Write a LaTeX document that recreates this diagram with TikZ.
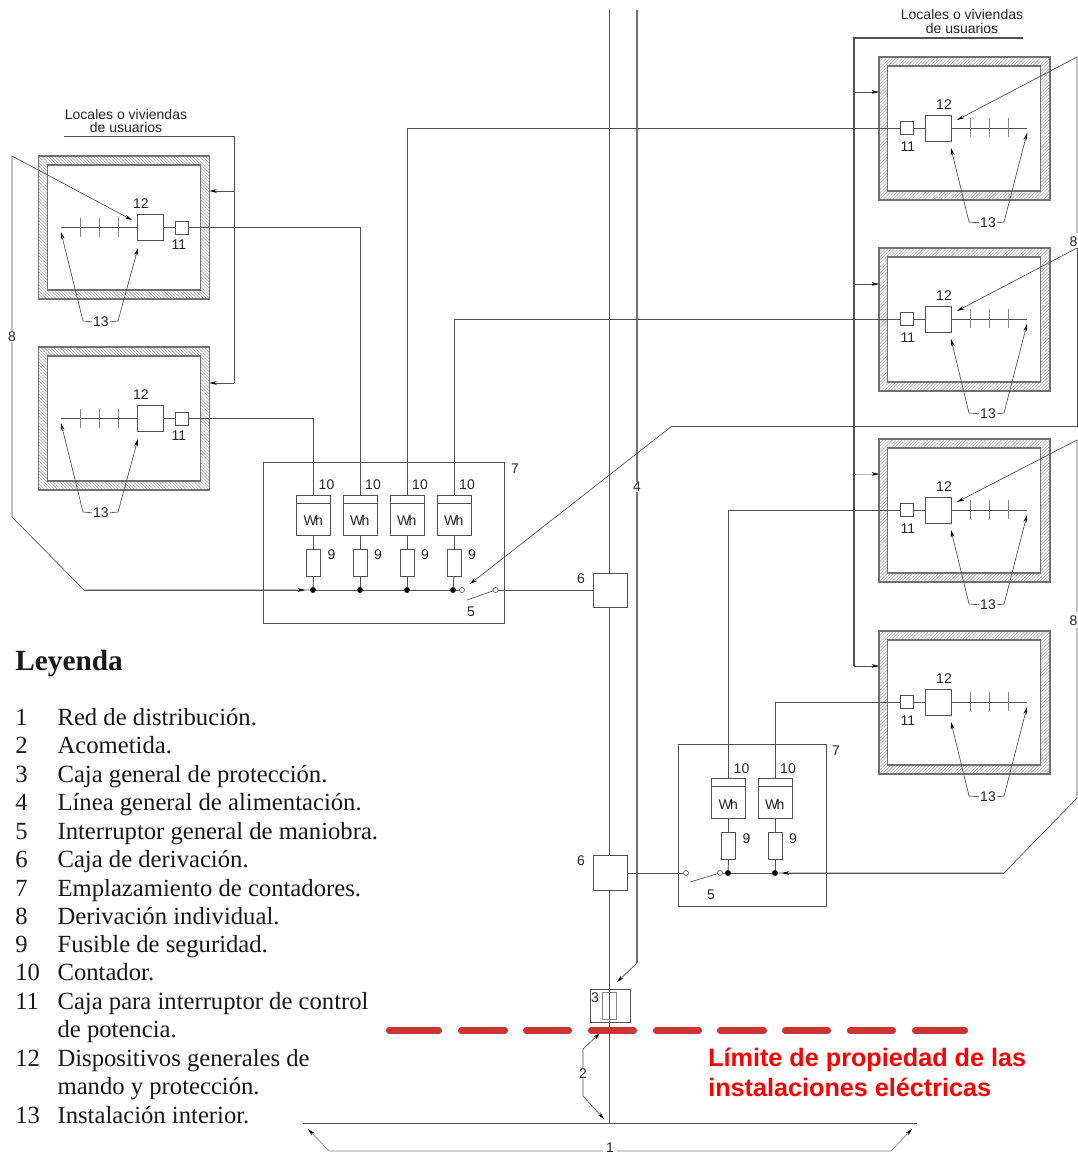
\documentclass[tikz,border=0pt]{standalone}
\usepackage{fontspec}
\setmainfont{Liberation Serif}
\setsansfont{Liberation Sans}
\usetikzlibrary{arrows.meta,patterns.meta}
\definecolor{wire}{HTML}{505050}
\definecolor{wallc}{HTML}{707070}
\definecolor{hatchc}{HTML}{8C8C8C}
\definecolor{limit}{HTML}{CC3333}
\definecolor{limtext}{HTML}{FF0000}
\tikzset{
  wire/.style={draw=wire,line width=0.7pt},
  lead/.style={draw=wire,line width=0.5pt},
  tip/.style={lead,-{Stealth[length=5.5pt,width=2.8pt,color=black]}},
  boxn/.style={draw=wire,line width=0.7pt,fill=white,inner sep=0pt,outer sep=0pt},
  bx/.style 2 args={boxn,minimum width=#1*0.75pt,minimum height=#2*0.75pt},
  wallNE/.style={draw=wallc,line width=0.8pt,inner sep=0pt,outer sep=0pt,minimum width=171*0.75pt,minimum height=143*0.75pt,
    pattern={Lines[angle=45,distance=1.7pt,line width=0.3pt]},pattern color=hatchc},
  wallNW/.style={wallNE,pattern={Lines[angle=-45,distance=1.7pt,line width=0.3pt]},pattern color=hatchc},
  inroom/.style={draw=wallc,line width=0.8pt,fill=white,inner sep=0pt,outer sep=0pt,minimum width=153*0.75pt,minimum height=125*0.75pt},
  lab/.style={font=\sffamily\fontsize{10.5}{12}\selectfont,text=black!85,inner sep=0pt,outer sep=0pt,yshift=-0.6pt},
  leg/.style={font=\rmfamily\fontsize{18.5}{20}\selectfont,anchor=base west,inner sep=0pt,text=black!90},
  red/.style={font=\sffamily\bfseries\fontsize{18.9}{20}\selectfont,anchor=base west,inner sep=0pt,text=limtext},
  dotn/.style={circle,fill=black,inner sep=0pt,minimum size=4.4pt},
  opn/.style={circle,draw=wire,line width=0.4pt,fill=white,inner sep=0pt,minimum size=3.8pt},
  limline/.style={draw=limit,line width=4.6pt,line cap=round},
}
% right-hand room: name, vertical offset
\newcommand\roomR[2]{%
\begin{scope}[shift={(0,#2)}]
  \node[wallNE] (#1) at (964.5,128.5) {};
  \node[inroom] (#1in) at (964,128.5) {};
  \node[bx={26}{26}] (#1b) at (938,128) {};
  \node[bx={13}{13}] (#1s) at (906.5,128) {};
  \coordinate (#1e) at (1027,128);
  \draw[wire] (#1s.east) -- (#1b.west) (#1b.east) -- (#1e);
  \foreach \t/\xx in {a/970,c/989,d/1008}{\draw[draw=wire!70,line width=0.7pt] (\xx,118) -- (\xx,137);}
  \node[lab] (#1l12) at (944,104) {12};
  \node[lab] (#1l11) at (908,146) {11};
  \node[lab] (#1l13) at (988,222) {13};
  \coordinate (#1t1) at (951,148);
  \coordinate (#1t2) at (1027,133);
  \coordinate (#1k1) at (969,222);
  \coordinate (#1k2) at (1004,222);
  \draw[tip] (#1l13.west) ++(-1,0) -- (#1k1) -- (#1t1);
  \draw[tip] (#1l13.east) ++(1,0) -- (#1k2) -- (#1t2);
\end{scope}}
% left-hand room: name, vertical offset
\newcommand\roomL[2]{%
\begin{scope}[shift={(0,#2)}]
  \node[wallNW] (#1) at (124,227.5) {};
  \node[inroom] (#1in) at (124,227.5) {};
  \node[bx={26}{26}] (#1b) at (150,227.5) {};
  \node[bx={13}{13}] (#1s) at (181.5,227.5) {};
  \coordinate (#1e) at (61,227.5);
  \draw[wire] (#1s.west) -- (#1b.east) (#1b.west) -- (#1e);
  \foreach \t/\xx in {a/80,c/99.5,d/118.5}{\draw[draw=wire!70,line width=0.7pt] (\xx,218) -- (\xx,237);}
  \node[lab] (#1l12) at (141,203) {12};
  \node[lab] (#1l11) at (179,244) {11};
  \node[lab] (#1l13) at (101,321) {13};
  \coordinate (#1t1) at (61,232);
  \coordinate (#1t2) at (138,248);
  \coordinate (#1k1) at (83,321);
  \coordinate (#1k2) at (118,321);
  \draw[tip] (#1l13.west) ++(-1,0) -- (#1k1) -- (#1t1);
  \draw[tip] (#1l13.east) ++(1,0) -- (#1k2) -- (#1t2);
\end{scope}}
% meter with fuse: name, x centre, y offset
\newcommand\meter[3]{%
  \node[bx={34}{40}] (#1) at (#2,515+#3) {};
  \draw[wire] (#1.west |- #2,503+#3) -- (#1.east |- #2,503+#3);
  \node[lab] (#1w) at (#2-0.5,520+#3) {\kern0.3pt W\kern-1.2pt h};
  \node[bx={14}{27}] (#1f) at (#2,562.5+#3) {};
  \node[lab] (#1n) at (#2+13,484+#3) {10};
  \node[lab] (#1g) at (#2+18,554+#3) {9};
  \draw[wire] (#1.south) -- (#1f.north);
}
\begin{document}
\begin{tikzpicture}[x=0.75pt,y=-0.75pt]
\useasboundingbox (0,0) rectangle (1078,1153);

% rooms
\roomR{rA}{0}
\roomR{rB}{191}
\roomR{rC}{382}
\roomR{rD}{574}
\roomL{lA}{0}
\roomL{lB}{191}

% captions
\node[lab,align=center,font=\sffamily\fontsize{10.5}{10.2}\selectfont] (capR) at (962,20.5) {Locales o viviendas\\de usuarios};
\node[lab,align=center,font=\sffamily\fontsize{10.5}{10.2}\selectfont] (capL) at (126,120) {Locales o viviendas\\de usuarios};

% feeders into rooms, right
\coordinate (fRa) at (1023,38);
\coordinate (fRb) at (854,38);
\coordinate (fRc) at (854,666);
\draw[wire,line width=0.8pt] (fRa) -- (fRb) -- (fRc);
\foreach \r/\yy in {rA/92,rB/284,rD/666}{
  \coordinate (\r f) at (854,\yy);
  \draw[wire,-{Stealth[length=5.5pt,width=2.8pt,color=black]}] (\r f) -- (\r.west |- \r f);
}
\coordinate (rCf) at (854,474);
\draw[draw=wire!45,line width=0.5pt,-{Stealth[length=5.5pt,width=2.8pt,color=black]}] (rCf) -- (rC.west |- rCf);

% feeders into rooms, left
\coordinate (fLa) at (64,136);
\coordinate (fLb) at (234,136);
\coordinate (fLc) at (234,383);
\draw[wire] (fLa) -- (fLb) -- (fLc);
\foreach \r/\yy in {lA/191,lB/383}{
  \coordinate (\r f) at (234,\yy);
  \draw[tip] (\r f) -- (\r.east |- \r f);
}

% main vertical lines
\coordinate (mainT) at (609,10);
\coordinate (mainB) at (609,1124);
\draw[wire] (mainT) -- (mainB);
\node[lab] (l4) at (637,486) {4};
\coordinate (lgaT) at (637,10);
\coordinate (lgaK) at (637,963);
\coordinate (lgaE) at (617,982);
\draw[draw=wire!80,line width=0.8pt] (lgaT) -- (l4.north);
\draw[draw=wire!80,line width=0.8pt] (l4.south) -- (lgaK);
\draw[tip] (lgaK) -- (lgaE);

% upper meter cabinet
\node[draw=wire,line width=0.7pt,inner sep=0pt,minimum width=241*0.75pt,minimum height=161*0.75pt] (cabA) at (383.5,542.5) {};
\node[lab] (l7a) at (515,468) {7};
\meter{mA}{313.5}{0}
\meter{mB}{360}{0}
\meter{mC}{407}{0}
\meter{mD}{454}{0}
\node[dotn] (dA) at (313,590) {};
\node[dotn] (dB) at (360,590) {};
\node[dotn] (dC) at (407,590) {};
\node[dotn] (dD) at (453,590) {};
\node[opn] (oA) at (462,590) {};
\node[opn] (oB) at (495.5,590) {};
\coordinate (bladeA) at (467,600);
\node[lab] (l5a) at (471,611) {5};
\node[bx={34}{34}] (bxA) at (610,590) {};
\node[lab] (l6a) at (581,578) {6};
\foreach \a/\b in {mA/dA,mB/dB,mC/dC,mD/dD}{\draw[wire] (\a f.south) -- (\b);}
\draw[wire] (dA) -- (dB) -- (dC) -- (dD) -- (oA);
\draw[wire] (oB) -- (bxA.west);
\draw[lead] (bladeA) -- (oB);

% lower meter cabinet
\node[draw=wire,line width=0.7pt,inner sep=0pt,minimum width=148*0.75pt,minimum height=162*0.75pt] (cabB) at (752,825) {};
\node[lab] (l7b) at (836,750) {7};
\meter{mE}{728.5}{283.5}
\meter{mF}{775}{283.5}
\node[dotn] (dE) at (728,873) {};
\node[dotn] (dF) at (775,873) {};
\node[opn] (oC) at (686,873) {};
\node[opn] (oD) at (720,873) {};
\coordinate (bladeB) at (690,882);
\node[lab] (l5b) at (711,894) {5};
\node[bx={34}{35}] (bxB) at (610,872.5) {};
\node[lab] (l6b) at (581,860) {6};
\foreach \a/\b in {mE/dE,mF/dF}{\draw[wire] (\a f.south) -- (\b);}
\draw[wire] (oD) -- (dE) -- (dF);
\draw[wire] (bxB.east |- oC) -- (oC);
\draw[lead] (bladeB) -- (oD);

% circuits from meters to rooms
\draw[wire] (mA.north) |- (lBs.east);
\draw[wire] (mB.north) |- (lAs.east);
\draw[wire] (mC.north) |- (rAs.west);
\draw[wire] (mD.north) |- (rBs.west);
\draw[wire] (mE.north) |- (rCs.west);
\draw[wire] (mF.north) |- (rDs.west);

% derivaciones individuales (8)
\node[lab] (l8L) at (12,336) {8};
\coordinate (lTop) at (12,156);
\coordinate (lTip) at (132,220);
\coordinate (lK1) at (12,517);
\coordinate (lK2) at (84,590);
\coordinate (lBus) at (305,590);
\draw[tip] (l8L.north) -- (lTop) -- (lTip);
\draw[lead] (l8L.south) -- (lK1) -- (lK2) -- (dA);
\draw[tip] (lK2) -- (lBus);

\node[lab] (l8Ra) at (1073.5,241) {8};
\coordinate (aBot) at (1077,233);
\coordinate (aTop) at (1077,57);
\coordinate (aTip) at (957,120);
\draw[tip] (aBot) -- (aTop) -- (aTip);
\coordinate (bTop) at (1077,248);
\coordinate (bTip) at (957,311);
\draw[tip] (bTop) -- (bTip);
\coordinate (bK1) at (1077,426);
\coordinate (bK2) at (672,426);
\coordinate (bK3) at (470,584);
\draw[lead] (bTop) -- (bK1) -- (bK2);
\draw[tip] (bK2) -- (bK3);

\node[lab] (l8Rb) at (1073.5,620) {8};
\coordinate (cUp) at (1077,612);
\coordinate (cDn) at (1077,628);
\coordinate (cTop) at (1077,440);
\coordinate (cTip) at (957,502);
\draw[tip] (cUp) -- (cTop) -- (cTip);
\coordinate (cK1) at (1077,798);
\coordinate (cK2) at (1004,873);
\coordinate (cBus) at (782,873);
\draw[lead] (cDn) -- (cK1) -- (cK2) -- (dF);
\draw[tip] (cK2) -- (cBus);

% caja general de proteccion
\node[draw=wire,line width=0.7pt,inner sep=0pt,minimum width=40*0.75pt,minimum height=33*0.75pt] (cgp) at (610,1005.5) {};
\node[draw=wire!70,line width=0.7pt,inner sep=0pt,minimum width=13.5*0.75pt,minimum height=27*0.75pt] (cgpi) at (609.5,1005.5) {};
\node[lab] (l3) at (595,997) {3};

% acometida
\node[lab] (l2) at (583,1073) {2};
\coordinate (aUk) at (583,1049);
\coordinate (aUt) at (600,1033);
\coordinate (aDk) at (583,1096);
\coordinate (aDt) at (604,1119);
\draw[tip] (l2.north) -- (aUk) -- (aUt);
\draw[tip] (l2.south) -- (aDk) -- (aDt);

% red de distribucion
\coordinate (netL) at (303,1123.5);
\coordinate (netR) at (917,1123.5);
\draw[wire] (netL) -- (netR);
\node[lab] (l1) at (610,1146.5) {1};
\coordinate (oneLs) at (603,1151);
\coordinate (oneRs) at (617,1151);
\coordinate (oneL) at (329,1151);
\coordinate (oneR) at (891,1151);
\coordinate (tipL) at (308,1129);
\coordinate (tipR) at (912,1129);
\draw[tip,draw=wire!70] (oneLs) -- (oneL) -- (tipL);
\draw[tip,draw=wire!70] (oneRs) -- (oneR) -- (tipR);

% limit line
\foreach \aa/\bb in {389/439,461/505,526/569,591/634,656/699,720/764,785/828,850/893,915/965}{
  \draw[limline] (\aa,1030.5) -- (\bb,1030.5);
}
\node[red] (redA) at (708,1066.7) {Límite de propiedad de las};
\node[red] (redB) at (708,1096) {instalaciones eléctricas};

% legend
\node[leg,font=\rmfamily\bfseries\fontsize{22}{24}\selectfont] (legT) at (15,670) {Leyenda};
\node[leg] (n1) at (15,725) {1};   \node[leg] (t1) at (57.3,725) {Red de distribución.};
\node[leg] (n2) at (15,753.5) {2}; \node[leg] (t2) at (57.3,753.5) {Acometida.};
\node[leg] (n3) at (15,782) {3};   \node[leg] (t3) at (57.3,782) {Caja general de protección.};
\node[leg] (n4) at (15,810.5) {4}; \node[leg] (t4) at (57.3,810.5) {Línea general de alimentación.};
\node[leg] (n5) at (15,839) {5};   \node[leg] (t5) at (57.3,839) {Interruptor general de maniobra.};
\node[leg] (n6) at (15,867.5) {6}; \node[leg] (t6) at (57.3,867.5) {Caja de derivación.};
\node[leg] (n7) at (15,896) {7};   \node[leg] (t7) at (57.3,896) {Emplazamiento de contadores.};
\node[leg] (n8) at (15,924.5) {8}; \node[leg] (t8) at (57.3,924.5) {Derivación individual.};
\node[leg] (n9) at (15,952.5) {9}; \node[leg] (t9) at (57.3,952.5) {Fusible de seguridad.};
\node[leg] (n10) at (15,980.5) {10}; \node[leg] (t10) at (57.3,980.5) {Contador.};
\node[leg] (n11) at (15,1009) {11};\node[leg] (t11) at (57.3,1009) {Caja para interruptor de control};
\node[leg] (t11b) at (57.3,1037.5) {de potencia.};
\node[leg] (n12) at (15,1066) {12};\node[leg] (t12) at (57.3,1066) {Dispositivos generales de};
\node[leg] (t12b) at (57.3,1094.5) {mando y protección.};
\node[leg] (n13) at (15,1123) {13};\node[leg] (t13) at (57.3,1123) {Instalación interior.};
\end{tikzpicture}
\end{document}
